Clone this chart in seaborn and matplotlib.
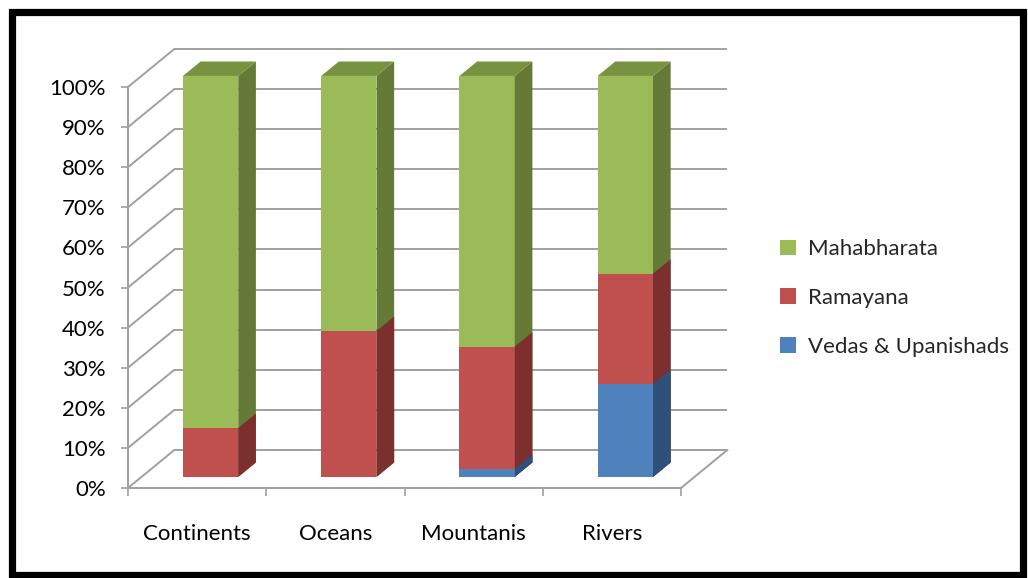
import matplotlib
matplotlib.use("Agg")
import matplotlib.pyplot as plt
import numpy as np
import pandas as pd
import seaborn as sns
from matplotlib.patches import Polygon, Rectangle

# Share of references (%) per category and source text
categories = ["Continents", "Oceans", "Mountanis", "Rivers"]
vedas = [0.0, 0.0, 2.0, 23.2]
ramayana = [12.2, 36.4, 30.5, 27.5]
mahabharata = [87.8, 63.6, 67.5, 49.3]
series_names = ["Mahabharata", "Ramayana", "Vedas & Upanishads"]
ytick_values = list(range(0, 101, 10))

sns.set_theme(style="white")
plt.rcParams["font.family"] = ["Lato", "DejaVu Sans"]

# oblique depth of the floor, in (category, percent) units
DEPTH_X, DEPTH_Y = 0.336, 9.5
BAR_FRONT, BAR_BACK = 0.29, 0.67
GRID = "#a0a0a0"
TEXT = "#000000"

df = pd.DataFrame({"category": categories, "vedas": vedas,
                   "ramayana": ramayana, "mahabharata": mahabharata})
df["top_vedas"] = df["vedas"]
df["top_ramayana"] = df["vedas"] + df["ramayana"]
df["top_all"] = df["top_ramayana"] + df["mahabharata"]

W, H = 1028, 578
fig = plt.figure(figsize=(W / 100, H / 100), dpi=100)
fig.patch.set_facecolor("white")
ax = fig.add_axes([128 / W, 90 / H, 600 / W, 441 / H])
ax.set_facecolor("none")

# (column, front colour, side colour, top colour, label)
layers = [
    ("top_all", "#9bbb59", "#657a37", "#78933f", series_names[0]),
    ("top_ramayana", "#c0504d", "#7b302e", "#a04240", series_names[1]),
    ("top_vedas", "#4f81bd", "#2f5078", "#3f6aa0", series_names[2]),
]

ox = BAR_FRONT * DEPTH_X
oy = BAR_FRONT * DEPTH_Y
ddx = (BAR_BACK - BAR_FRONT) * DEPTH_X
ddy = (BAR_BACK - BAR_FRONT) * DEPTH_Y

for i, (col, front, side, top, label) in enumerate(layers):
    n_before = len(ax.patches)
    sns.barplot(data=df, x="category", y=col, color=front, saturation=1,
                width=0.4, linewidth=0, label=label, ax=ax, zorder=3 + 2 * i)
    bars = ax.patches[n_before:]
    for p in bars:
        p.set_x(p.get_x() + ox)
        p.set_y(p.get_y() + oy)
        x0, y0 = p.get_x(), p.get_y()
        x1, y1 = x0 + p.get_width(), y0 + p.get_height()
        if p.get_height() <= 0:
            continue
        ax.add_patch(Polygon([(x1, y0), (x1 + ddx, y0 + ddy), (x1 + ddx, y1 + ddy), (x1, y1)],
                             closed=True, facecolor=side, edgecolor="none",
                             zorder=3 + 2 * i))
        if i == 0:
            ax.add_patch(Polygon([(x0, y1), (x1, y1), (x1 + ddx, y1 + ddy), (x0 + ddx, y1 + ddy)],
                                 closed=True, facecolor=top, edgecolor="none",
                                 zorder=3 + 2 * i))
if ax.get_legend() is not None:
    ax.get_legend().remove()

# walls and floor
x_left, x_right = -0.5, len(categories) - 0.5
for v in ytick_values:
    ax.plot([x_left, x_left + DEPTH_X], [v, v + DEPTH_Y], color=GRID, lw=1.4,
            zorder=1, clip_on=False, solid_capstyle="butt")
    ax.plot([x_left + DEPTH_X, x_right + DEPTH_X], [v + DEPTH_Y, v + DEPTH_Y],
            color=GRID, lw=1.4, zorder=1, clip_on=False, solid_capstyle="butt")
ax.plot([x_right, x_right + DEPTH_X], [0, DEPTH_Y], color=GRID, lw=1.4,
        zorder=1, clip_on=False)

ax.set_xlim(x_left, x_left + 600 / 138.25)
ax.set_ylim(0, 441 / 4.01)

for s in ["top", "right"]:
    ax.spines[s].set_visible(False)
for s in ["left", "bottom"]:
    ax.spines[s].set_color(GRID)
    ax.spines[s].set_linewidth(1.4)
ax.spines["left"].set_bounds(0, 100)
ax.spines["bottom"].set_bounds(x_left, x_right)

ax.set_yticks(ytick_values)
ax.set_yticklabels([f"{v}%" for v in ytick_values])
ax.set_xticks(range(len(categories)))
ax.set_xticklabels(categories)
ax.set_xticks(np.arange(len(categories) + 1) - 0.5, minor=True)
ax.tick_params(axis="y", which="major", direction="out", length=5, width=1.2,
               color=GRID, labelsize=16, pad=11, labelcolor=TEXT, left=True)
ax.tick_params(axis="x", which="major", length=0, labelsize=16, pad=26,
               labelcolor=TEXT)
ax.tick_params(axis="x", which="minor", direction="out", length=6, width=1.2,
               color=GRID, bottom=True)
ax.set_xlabel("")
ax.set_ylabel("")

handles, labels = ax.get_legend_handles_labels()
fig.legend(handles, labels, loc="center left", bbox_to_anchor=(780 / W, 1 - 298 / H),
           frameon=False, fontsize=16, handlelength=0.7, handleheight=0.7,
           handletextpad=0.55, labelspacing=1.3, borderpad=0, borderaxespad=0)

fig.patches.append(Rectangle((12 / W, 3 / H), 1010.5 / W, 563 / H,
                             transform=fig.transFigure, fill=False,
                             edgecolor="black", linewidth=5.2, zorder=10))

fig.savefig("out.png", dpi=100, facecolor="white")
